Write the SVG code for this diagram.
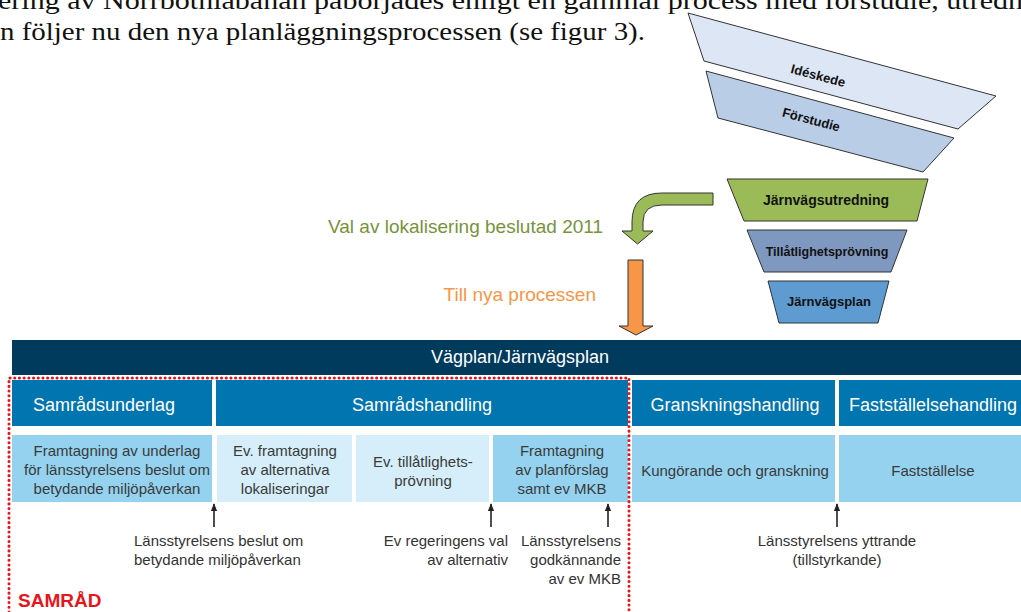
<svg xmlns="http://www.w3.org/2000/svg" width="1021" height="612" viewBox="0 0 1021 612">
<style>
.body{font-family:"Liberation Serif",Georgia,serif;font-size:26px;fill:#111}
.fun{stroke:#333;stroke-width:1}
.ft{font-family:"Liberation Sans",Arial,sans-serif;font-weight:bold;fill:#111;text-anchor:middle}
.hdr{font-family:"Liberation Sans",Arial,sans-serif;font-size:18px;fill:#fff;text-anchor:middle}
.bx{font-family:"Liberation Sans",Arial,sans-serif;font-size:15px;fill:#3a3a3a;text-anchor:middle}
.lbl{font-family:"Liberation Sans",Arial,sans-serif;font-size:15px;fill:#333}
.up{stroke:#222;stroke-width:1.6;fill:none;marker-end:url(#ah)}
.mid{fill:#94D2EF}
.lt{fill:#D5EEF9}
.blue{fill:#0075B0}
</style>
<defs>
<marker id="ah" viewBox="0 0 10 10" refX="9" refY="5" markerWidth="5" markerHeight="5" orient="auto" markerUnits="strokeWidth">
<path d="M0,1 L10,5 L0,9 Z" fill="#222"/>
</marker>
</defs>
<rect width="1021" height="612" fill="#fff"/>
<g id="bodytext">
<text class="body" x="-2" y="9" textLength="1025" lengthAdjust="spacingAndGlyphs">ering av Norrbotniabanan påbörjades enligt en gammal process med förstudie, utredn</text>
<text class="body" x="0" y="40" textLength="645" lengthAdjust="spacingAndGlyphs">n följer nu den nya planläggningsprocessen (se figur 3).</text>
</g>
<g id="ideskede">
<polygon class="fun" points="688,13 996,96 958,129 704,61" fill="#DCE6F4"/>
<text class="ft" font-size="13" transform="translate(817,80) rotate(15)">Idéskede</text>
</g>
<g id="forstudie">
<polygon class="fun" points="706,71 954,138 923,172 718,118" fill="#B9CDE7"/>
<text class="ft" font-size="13" transform="translate(810,124) rotate(15)">Förstudie</text>
</g>
<g id="jarnvagsutredning">
<polygon class="fun" points="727,179 928,179 917,221 744,221" fill="#9BBB59"/>
<text class="ft" font-size="14" x="826" y="205">Järnvägsutredning</text>
</g>
<g id="tillatlighetsprovning">
<polygon class="fun" points="747,230 907,230 891,272 764,272" fill="#7F98C0"/>
<text class="ft" font-size="12.5" x="827" y="256">Tillåtlighetsprövning</text>
</g>
<g id="jarnvagsplan-funnel">
<polygon class="fun" points="768,281 889,281 878,323 779,323" fill="#5E9BD0"/>
<text class="ft" font-size="13" x="829" y="306">Järnvägsplan</text>
</g>
<g id="transition-arrows">
<path class="fun" d="M713,193 L662,193 Q632,193 632,222 L632,231 L622,231 L637.5,244 L653,231 L643,231 L643,222 Q643,205 662,205 L713,205 Z" fill="#9BBB59"/>
<path class="fun" d="M628,260 L643,260 L643,326 L653,326 L636,335 L619,326 L628,326 Z" fill="#F79646"/>
<text x="603" y="233" font-family="Liberation Sans,Arial,sans-serif" font-size="19" fill="#77933C" text-anchor="end">Val av lokalisering beslutad 2011</text>
<text x="596" y="301" font-family="Liberation Sans,Arial,sans-serif" font-size="19" fill="#F79646" text-anchor="end">Till nya processen</text>
</g>
<g id="vagplan-header">
<rect x="12" y="340" width="1009" height="35" fill="#003A5D"/>
<text class="hdr" x="520" y="363">Vägplan/Järnvägsplan</text>
</g>
<g id="samradsunderlag">
<rect class="blue" x="12" y="380" width="200" height="46"/>
<text class="hdr" x="104" y="411">Samrådsunderlag</text>
</g>
<g id="samradshandling">
<rect class="blue" x="216" y="380" width="412" height="46"/>
<text class="hdr" x="422" y="411">Samrådshandling</text>
</g>
<g id="granskningshandling">
<rect class="blue" x="632" y="380" width="203" height="46"/>
<text class="hdr" x="735" y="411">Granskningshandling</text>
</g>
<g id="faststallelsehandling">
<rect class="blue" x="839" y="380" width="182" height="46"/>
<text class="hdr" x="933" y="411">Fastställelsehandling</text>
</g>
<g id="box-underlag">
<rect class="mid" x="12" y="435" width="200" height="67"/>
<text class="bx" x="117" y="456">Framtagning av underlag</text>
<text class="bx" x="117" y="475">för länsstyrelsens beslut om</text>
<text class="bx" x="117" y="494">betydande miljöpåverkan</text>
</g>
<g id="box-alternativ">
<rect class="lt" x="217" y="435" width="135" height="67"/>
<text class="bx" x="285" y="456">Ev. framtagning</text>
<text class="bx" x="285" y="475">av alternativa</text>
<text class="bx" x="285" y="494">lokaliseringar</text>
</g>
<g id="box-tillatlighet">
<rect class="lt" x="356" y="435" width="133" height="67"/>
<text class="bx" x="423" y="467">Ev. tillåtlighets-</text>
<text class="bx" x="423" y="486">prövning</text>
</g>
<g id="box-planforslag">
<rect class="mid" x="493" y="435" width="135" height="67"/>
<text class="bx" x="562" y="456">Framtagning</text>
<text class="bx" x="562" y="475">av planförslag</text>
<text class="bx" x="562" y="494">samt ev MKB</text>
</g>
<g id="box-kungorande">
<rect class="mid" x="632" y="435" width="203" height="67"/>
<text class="bx" x="735" y="476">Kungörande och granskning</text>
</g>
<g id="box-faststallelse">
<rect class="mid" x="839" y="435" width="182" height="67"/>
<text class="bx" x="933" y="476">Fastställelse</text>
</g>
<g id="connectors">
<line class="up" x1="214" y1="527" x2="214" y2="504"/>
<line class="up" x1="491" y1="527" x2="491" y2="504"/>
<line class="up" x1="608" y1="527" x2="608" y2="504"/>
<line class="up" x1="837" y1="527" x2="837" y2="504"/>
</g>
<g id="labels">
<text class="lbl" x="134" y="546">Länsstyrelsens beslut om</text>
<text class="lbl" x="134" y="565">betydande miljöpåverkan</text>
<text class="lbl" x="508" y="546" text-anchor="end">Ev regeringens val</text>
<text class="lbl" x="508" y="565" text-anchor="end">av alternativ</text>
<text class="lbl" x="621" y="546" text-anchor="end">Länsstyrelsens</text>
<text class="lbl" x="621" y="565" text-anchor="end">godkännande</text>
<text class="lbl" x="621" y="584" text-anchor="end">av ev MKB</text>
<text class="lbl" x="837" y="546" text-anchor="middle">Länsstyrelsens yttrande</text>
<text class="lbl" x="837" y="565" text-anchor="middle">(tillstyrkande)</text>
</g>
<g id="samrad">
<path d="M9,612 L9,378 L629,378 L629,612" fill="none" stroke="#E8141C" stroke-width="3" stroke-dasharray="0.1 4.6" stroke-linecap="round"/>
<text x="18" y="607" font-family="Liberation Sans,Arial,sans-serif" font-size="19" font-weight="bold" fill="#E8141C">SAMRÅD</text>
</g>
</svg>
